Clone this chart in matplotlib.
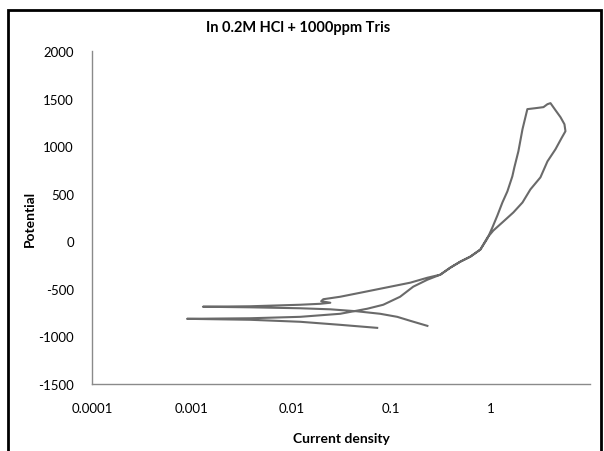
import matplotlib.pyplot as plt
from matplotlib.patches import Rectangle

# Polarization scan (current density, potential)
current = [0.233, 0.157, 0.116, 0.0783, 0.046, 0.0247, 0.0123, 0.00387, 0.0013,
           0.00387, 0.0123, 0.0195, 0.0247, 0.020, 0.021, 0.031, 0.0493, 0.088, 0.157, 0.233, 0.314,
           0.396, 0.499, 0.63, 0.793, 0.933,
           1.047, 1.175, 1.32, 1.48, 1.66, 1.74, 1.91, 2.10, 2.35,
           2.83, 3.41, 3.74, 4.01, 4.50, 5.06, 5.54, 5.67, 5.17,
           4.50, 3.74, 3.18, 2.52, 2.10, 1.70, 1.35, 1.07, 0.933,
           0.793, 0.63, 0.499, 0.396, 0.314,
           0.233, 0.168, 0.124, 0.084, 0.058, 0.031, 0.0123, 0.00387, 0.0009,
           0.00387, 0.0123, 0.031, 0.073]
potential = [-889, -836, -794, -762, -736, -715, -704, -694, -688,
             -683, -667, -657, -646, -630, -609, -583, -541, -488, -435, -383, -351,
             -277, -214, -161, -87, 29,
             145, 271, 408, 524, 682, 777, 946, 1178, 1389,
             1399, 1410, 1441, 1452, 1378, 1304, 1230, 1157, 1083,
             967, 840, 672, 545, 408, 303, 208, 113, 39,
             -87, -161, -214, -277, -351,
             -404, -477, -583, -667, -709, -762, -794, -809, -815,
             -825, -846, -878, -910]

xticks = [0.0001, 0.001, 0.01, 0.1, 1]
xtick_labels = ['0.0001', '0.001', '0.01', '0.1', '1']
yticks = [-1500, -1000, -500, 0, 500, 1000, 1500, 2000]

plt.rcParams['font.family'] = ['Lato', 'DejaVu Sans']
plt.rcParams['axes.unicode_minus'] = False

fig = plt.figure(figsize=(6.04, 4.52), dpi=100)
ax = fig.add_axes([92/604, 1 - 385/452, (590 - 92)/604, (385 - 52)/452])

ax.plot(current, potential, color='#6a6a6a', lw=1.5)

ax.set_xscale('log')
ax.set_xlim(0.0001, 10)
ax.set_ylim(-1500, 2000)
ax.set_xticks(xticks)
ax.set_xticklabels(xtick_labels)
ax.minorticks_off()
ax.set_yticks(yticks)
ax.tick_params(length=0, labelsize=9.5, pad=13)

for s in ['top', 'right']:
    ax.spines[s].set_visible(False)
for s in ['left', 'bottom']:
    ax.spines[s].set_color('#8a8a8a')
    ax.spines[s].set_linewidth(1)

ax.set_xlabel('Current density', fontsize=10, fontweight='bold', labelpad=13)
ax.set_ylabel('Potential', fontsize=10, fontweight='bold', labelpad=2)
fig.text(298/604, 1 - 28/452, 'In 0.2M HCl + 1000ppm Tris', ha='center', va='center',
         fontsize=10.5, fontweight='bold')

# chart area border (bottom edge falls outside the image)
fig.patches.append(Rectangle((8/604, -0.05), (601 - 8)/604, 1.05 - 11/452,
                             transform=fig.transFigure, fill=False,
                             edgecolor='black', lw=2))

fig.savefig('out.png', dpi=100)
